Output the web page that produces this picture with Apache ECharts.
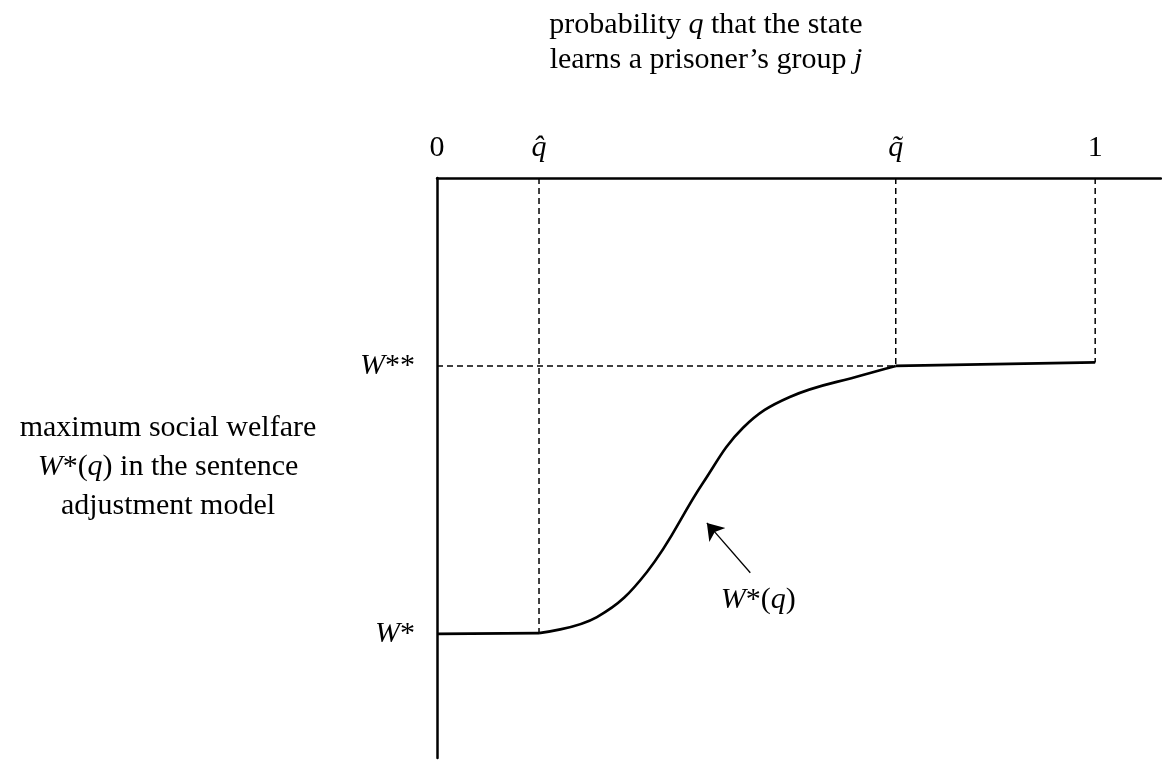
<!DOCTYPE html>
<html>
<head>
<meta charset="utf-8">
<script src="https://cdn.jsdelivr.net/npm/echarts@6/dist/echarts.min.js"></script>
<style>
html,body{margin:0;padding:0;background:#fff;}
#chart{width:1162px;height:761px;}
</style>
</head>
<body>
<div id="chart"></div>
<script>
// ---- data ----
const qTicks = [0, 0.155, 0.697, 1];
const qTickLabels = ['0', 'q\u0302', 'q\u0303', '1'];
const wLevels = [0, 1];
const wLabels = ['W*', 'W**'];
const curveQ = [0, 0.155, 0.243, 0.319, 0.404, 0.465, 0.536, 0.647, 0.697, 1.0];
const curveW = [0, 0.003, 0.063, 0.231, 0.563, 0.769, 0.884, 0.966, 1.0, 1.013];
const arrowFrom = [0.476, 0.228];
const arrowTo = [0.410, 0.414];
const curveLabelAt = [0.488, 0.127];
const xTitle = ['probability q that the state', 'learns a prisoner\u2019s group j'];
const yTitle = ['maximum social welfare', 'W*(q) in the sentence', 'adjustment model'];

const FONT = "'Liberation Serif', 'Times New Roman', serif";
const FS = 30;

const chart = echarts.init(document.getElementById('chart'), null, {renderer: 'canvas'});

const flatL = curveQ.slice(0, 2).map((q, i) => [q, curveW[i]]);
const midPart = curveQ.slice(1, curveQ.length - 1).map((q, i) => [q, curveW[i + 1]]);
const flatR = curveQ.slice(curveQ.length - 2).map((q, i) => [q, curveW[curveQ.length - 2 + i]]);
const qHat = qTicks[1], qTil = qTicks[2], qOne = qTicks[3];
const yTop = 1.701;

function dashed(data) {
  return {
    type: 'line', data: data, symbol: 'none', silent: true,
    lineStyle: {color: '#000', width: 1.5, type: [6, 4]}, z: 2
  };
}
function solid(data, smooth) {
  return {
    type: 'line', data: data, symbol: 'none', smooth: smooth, silent: true,
    lineStyle: {color: '#000', width: 2.6}, z: 5
  };
}

const richStyles = {
  i: {fontFamily: FONT, fontSize: FS, fontStyle: 'italic', color: '#000'},
  r: {fontFamily: FONT, fontSize: FS, color: '#000'}
};

function fmtW(s) {
  return '{i|W}{r|' + s.slice(1) + '}';
}

const option = {
  animation: false,
  backgroundColor: '#fff',
  grid: {left: 437, top: 178, right: 1, bottom: 3},
  xAxis: {
    type: 'value', position: 'top', min: 0, max: 1.1,
    axisLine: {show: true, onZero: false, lineStyle: {color: '#000', width: 2.5}},
    axisTick: {show: false},
    splitLine: {show: false},
    axisLabel: {
      show: true, customValues: qTicks, margin: 30, verticalAlign: 'middle',
      formatter: function (v) {
        const idx = qTicks.findIndex(t => Math.abs(t - v) < 1e-6);
        const s = idx >= 0 ? qTickLabels[idx] : '';
        if (s.indexOf('q') === 0) return '{i|' + s + '}';
        return '{r|' + s + '}';
      },
      rich: richStyles
    }
  },
  yAxis: {
    type: 'value', min: -0.463, max: yTop,
    axisLine: {show: true, onZero: false, lineStyle: {color: '#000', width: 2.5}},
    axisTick: {show: false},
    splitLine: {show: false},
    axisLabel: {
      show: true, customValues: wLevels, margin: 22, verticalAlign: 'middle',
      formatter: function (v) {
        const idx = wLevels.findIndex(t => Math.abs(t - v) < 1e-6);
        return idx >= 0 ? fmtW(wLabels[idx]) : '';
      },
      rich: richStyles
    }
  },
  series: [
    dashed([[qHat, yTop], [qHat, curveW[1]]]),
    dashed([[qTil, yTop], [qTil, 1.0]]),
    dashed([[qOne, yTop], [qOne, curveW[curveW.length - 1]]]),
    dashed([[0, 1.0], [qTil, 1.0]]),
    solid(flatL, false),
    solid(midPart, 0.4),
    solid(flatR, false),
    {
      type: 'lines', coordinateSystem: 'cartesian2d', silent: true,
      symbol: ['none', 'arrow'], symbolSize: [0, 16],
      lineStyle: {color: '#000', width: 1.3, opacity: 1},
      data: [{coords: [arrowFrom, arrowTo]}], z: 6
    },
    {
      type: 'scatter', data: [curveLabelAt], symbolSize: 0, silent: true,
      itemStyle: {opacity: 1, color: '#000'},
      label: {
        show: true, position: 'inside', color: '#000', opacity: 1,
        formatter: '{i|W}{r|*(}{i|q}{r|)}',
        rich: richStyles
      }
    }
  ],
  graphic: [
    {
      type: 'text', x: 706, y: 25,
      style: {
        text: '{r|probability }{i|q}{r| that the state}',
        rich: richStyles, align: 'center', verticalAlign: 'middle'
      }
    },
    {
      type: 'text', x: 706, y: 60,
      style: {
        text: '{r|learns a prisoner\u2019s group }{i|j}',
        rich: richStyles, align: 'center', verticalAlign: 'middle'
      }
    },
    {
      type: 'text', x: 168, y: 428,
      style: {text: '{r|' + yTitle[0] + '}', rich: richStyles, align: 'center', verticalAlign: 'middle'}
    },
    {
      type: 'text', x: 168, y: 467,
      style: {text: '{i|W}{r|*(}{i|q}{r|) in the sentence}', rich: richStyles, align: 'center', verticalAlign: 'middle'}
    },
    {
      type: 'text', x: 168, y: 506,
      style: {text: '{r|' + yTitle[2] + '}', rich: richStyles, align: 'center', verticalAlign: 'middle'}
    }
  ]
};

chart.setOption(option);
</script>
</body>
</html>
